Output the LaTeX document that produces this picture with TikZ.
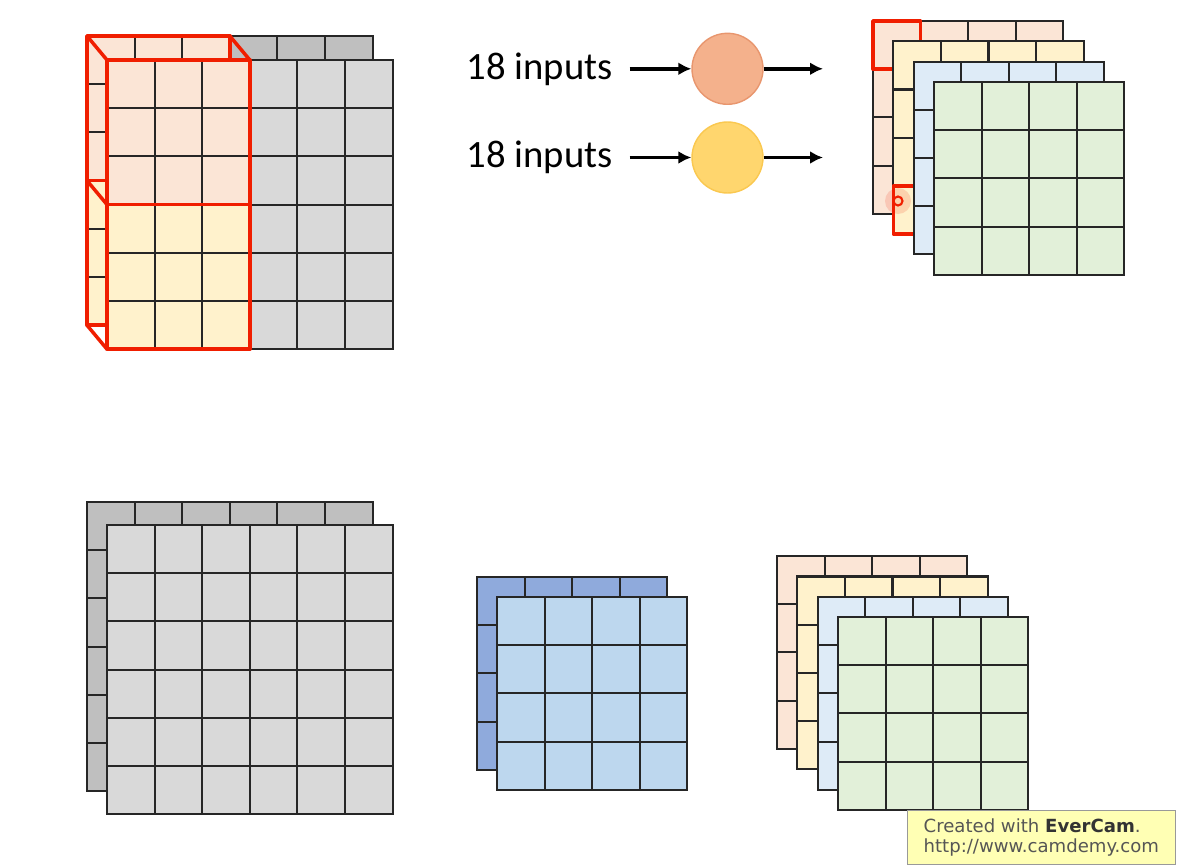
\documentclass[tikz,border=0pt]{standalone}
\usepackage{fontspec}
\setmainfont{Carlito}
\newfontfamily\fuenteSello{DejaVu Sans}
\usetikzlibrary{arrows.meta, calc}

\definecolor{grisOscuro}{RGB}{191,191,191}
\definecolor{grisClaro}{RGB}{217,217,217}
\definecolor{durazno}{RGB}{251,229,214}
\definecolor{crema}{RGB}{255,242,204}
\definecolor{azulClaro}{RGB}{222,235,247}
\definecolor{verdeClaro}{RGB}{226,240,217}
\definecolor{azulOscuro}{RGB}{143,170,220}
\definecolor{azulMedio}{RGB}{189,215,238}
\definecolor{rojoMarco}{RGB}{240,30,0}
\definecolor{naranjaNeurona}{RGB}{244,177,140}
\definecolor{bordeNaranja}{RGB}{232,150,110}
\definecolor{amarilloNeurona}{RGB}{255,214,110}
\definecolor{bordeAmarillo}{RGB}{250,200,80}
\definecolor{fondoSello}{RGB}{255,255,180}
\definecolor{textoSello}{RGB}{85,85,85}

\newcommand{\anchoCelda}{47.6}
\newcommand{\altoCelda}{48.2}
% Capa de n x n celdas: esquina (x,y), n, relleno
\newcommand{\capa}[4]{%
  \foreach \i in {1,...,#3}
    \foreach \j in {1,...,#3}
      \filldraw[celda, fill=#4] ({#1+(\i-1)*\anchoCelda},{#2+(\j-1)*\altoCelda})
        rectangle ++(\anchoCelda,\altoCelda);
}

\begin{document}
\begin{tikzpicture}[x=0.02cm, y=-0.02cm,
    celda/.style={draw=black!85, line width=1.2pt},
    marco/.style={draw=rojoMarco, line width=2pt, line join=round},
    neurona/.style={circle, minimum size=1.42cm, inner sep=0pt, line width=0.8pt},
    entrada/.style={inner sep=0pt, font=\fontsize{22}{26}\selectfont},
    flecha/.style={-{Latex[length=2.6mm, width=2.6mm]}, line width=2pt},
    sello/.style={draw=black!40, fill=fondoSello, text=textoSello, align=left,
      minimum width=5.36cm, minimum height=1.08cm,
      font=\fuenteSello\fontsize{10.3}{11.4}\selectfont}]
  \useasboundingbox (0,0) rectangle (1179,865);

  % Entrada 6x6x2 con dos campos receptivos 3x3x2
  \capa{87}{36}{6}{grisOscuro}
  \capa{87}{36}{3}{durazno}
  \capa{87}{180.6}{3}{crema}
  \draw[marco] (87,36) rectangle (229.8,180.6) (87,180.6) rectangle (229.8,325.2);
  \draw[marco] (87,36) -- (107,60) (229.8,36) -- (249.8,60)
               (87,180.6) -- (107,204.6) (87,325.2) -- (107,349.2);
  \capa{107}{60}{6}{grisClaro}
  \capa{107}{60}{3}{durazno}
  \capa{107}{204.6}{3}{crema}
  \draw[marco] (107,60) rectangle (249.8,204.6) (107,204.6) rectangle (249.8,349.2);

  % Neuronas con sus 18 entradas
  \node[neurona, fill=naranjaNeurona, draw=bordeNaranja] (n1) at (727.5,68.8) {};
  \node[neurona, fill=amarilloNeurona, draw=bordeAmarillo] (n2) at (727.5,157.5) {};
  \node[entrada, anchor=base east] (in1) at (613,80) {18 inputs};
  \node[entrada, anchor=base east] (in2) at (613,167) {18 inputs};
  \coordinate (out1) at (823,68.8);
  \coordinate (out2) at (823,157.5);
  \draw[flecha, shorten <=9.5pt] (in1.east |- n1) -- (n1);
  \draw[flecha, shorten <=9.5pt] (in2.east |- n2) -- (n2);
  \draw[flecha] (n1) -- (out1);
  \draw[flecha] (n2) -- (out2);

  % Salida 4x4x4 (arriba)
  \capa{873}{21}{4}{durazno}
  \draw[marco] (873,21) rectangle (920.6,69.2);
  \capa{893.3}{41.3}{4}{crema}
  \draw[marco] (893.3,185.9) rectangle (940.9,234.1);
  \capa{913.6}{61.6}{4}{azulClaro}
  \capa{934}{82}{4}{verdeClaro}
  % Cursor
  \fill[rojoMarco, opacity=0.15] (898,201) circle[radius=13];
  \draw[rojoMarco, line width=1.2pt] (898,201) circle[radius=4.5];

  % Entrada 6x6x2 (abajo)
  \capa{87}{502}{6}{grisOscuro}
  \capa{107}{525}{6}{grisClaro}

  % Filtro 4x4x2
  \capa{477}{577}{4}{azulOscuro}
  \capa{497}{597}{4}{azulMedio}

  % Salida 4x4x4 (abajo)
  \capa{777}{556}{4}{durazno}
  \capa{797.3}{576.5}{4}{crema}
  \capa{817.6}{597}{4}{azulClaro}
  \capa{838}{617}{4}{verdeClaro}

  % Sello
  \node[sello, anchor=north west] (sello) at (907,810)
    {Created with \textbf{\color{black!80}EverCam}.\\http://www.camdemy.com};
\end{tikzpicture}
\end{document}
